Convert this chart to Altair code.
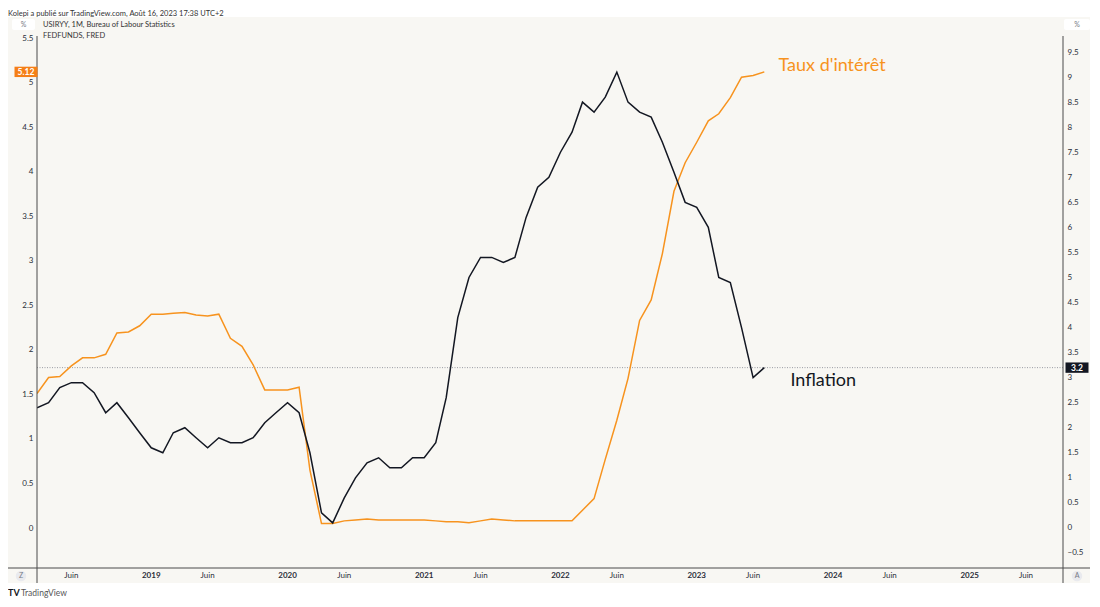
import altair as alt
import pandas as pd

# ---------------- data ----------------
months = pd.date_range("2018-03-01", "2023-07-01", freq="MS").strftime("%Y-%m-%d").tolist()

cpi_yoy = [2.4, 2.5, 2.8, 2.9, 2.9, 2.7, 2.3, 2.5, 2.2, 1.9,
           1.6, 1.5, 1.9, 2.0, 1.8, 1.6, 1.8, 1.7, 1.7, 1.8, 2.1, 2.3,
           2.5, 2.3, 1.5, 0.3, 0.1, 0.6, 1.0, 1.3, 1.4, 1.2, 1.2, 1.4,
           1.4, 1.7, 2.6, 4.2, 5.0, 5.4, 5.4, 5.3, 5.4, 6.2, 6.8, 7.0,
           7.5, 7.9, 8.5, 8.3, 8.6, 9.1, 8.5, 8.3, 8.2, 7.7, 7.1, 6.5,
           6.4, 6.0, 5.0, 4.9, 4.0, 3.0, 3.2]

fed_funds = [1.51, 1.69, 1.70, 1.82, 1.91, 1.91, 1.95, 2.19, 2.20, 2.27,
             2.40, 2.40, 2.41, 2.42, 2.39, 2.38, 2.40, 2.13, 2.04, 1.83, 1.55, 1.55,
             1.55, 1.58, 0.65, 0.05, 0.05, 0.08, 0.09, 0.10, 0.09, 0.09, 0.09, 0.09,
             0.09, 0.08, 0.07, 0.07, 0.06, 0.08, 0.10, 0.09, 0.08, 0.08, 0.08, 0.08,
             0.08, 0.08, 0.20, 0.33, 0.77, 1.21, 1.68, 2.33, 2.56, 3.08, 3.78, 4.10,
             4.33, 4.57, 4.65, 4.83, 5.06, 5.08, 5.12]

left_ticks = [0, 0.5, 1, 1.5, 2, 2.5, 3, 3.5, 4, 4.5, 5, 5.5]
right_ticks = [-0.5, 0, 0.5, 1, 1.5, 2, 2.5, 3, 3.5, 4, 4.5, 5, 5.5, 6, 6.5, 7, 7.5, 8, 8.5, 9, 9.5]

year_tick_dates = ["2019-01-01", "2020-01-01", "2021-01-01", "2022-01-01", "2023-01-01",
                   "2024-01-01", "2025-01-01"]
year_tick_labels = ["2019", "2020", "2021", "2022", "2023", "2024", "2025"]
june_tick_dates = ["2018-06-01", "2019-06-01", "2020-06-01", "2021-06-01", "2022-06-01",
                   "2023-06-01", "2024-06-01", "2025-06-01"]
june_tick_labels = ["Juin"] * 8

annot_text = ["Taux d'intérêt", "Inflation"]
annot_dates = ["2023-08-08", "2023-09-09"]
annot_values = [5.19, 2.93]

last_cpi = [3.2]
last_fed = [5.12]

header_text = "Kolepi a publié sur TradingView.com, Août 16, 2023 17:38 UTC+2"
legend_lines = ["USIRYY, 1M, Bureau of Labour Statistics", "FEDFUNDS, FRED"]

# ---------------- styling ----------------
FONT = "Lato"
ORANGE = "#F7931E"
ORANGE_BOX = "#F57F17"
BLACK = "#131722"
TXT = "#2a2e39"
PANEL = "#f8f7f3"
AXLINE = "#4a4a4a"

W, H = 1026, 551

df = pd.DataFrame({"date": months, "cpi": cpi_yoy, "fed": fed_funds})
one = pd.DataFrame({"k": [0]})

XS = alt.Scale(type="utc", domain=[alt.DateTime(year=2018, month=3, date=1, utc=True),
                                   alt.DateTime(year=2025, month=9, date=8, utc=True)])
Y_FED = alt.Scale(domain=[-0.449, 5.736], nice=False, zero=False)
Y_CPI = alt.Scale(domain=[-0.80, 10.20], nice=False, zero=False)

left_axis = alt.Axis(values=left_ticks, orient="left", title=None, domain=False, ticks=False, grid=False,
                     zindex=2, labelFont=FONT, labelFontSize=8, labelColor=TXT, labelPadding=4, format="~g")
right_axis = alt.Axis(values=right_ticks, orient="right", title=None, domain=False, ticks=False, grid=False,
                      zindex=2, labelFont=FONT, labelFontSize=8, labelColor=TXT, labelPadding=4, format="~g")

# ---------------- decorative frame ----------------
panel = alt.Chart(one).mark_rect(color=PANEL).encode(
    x=alt.value(-32), x2=alt.value(1053), y=alt.value(0), y2=alt.value(566))

vline_l = alt.Chart(one).mark_rule(color=AXLINE, strokeWidth=1).encode(
    x=alt.value(0), y=alt.value(19), y2=alt.value(566))
vline_r = alt.Chart(one).mark_rule(color=AXLINE, strokeWidth=1).encode(
    x=alt.value(W), y=alt.value(19), y2=alt.value(566))
hline_b = alt.Chart(one).mark_rule(color=AXLINE, strokeWidth=1).encode(
    x=alt.value(-32), x2=alt.value(1053), y=alt.value(H))

btn = alt.Chart(pd.DataFrame({"x": [-16, 1040], "t": ["Z", "A"]}))
btn_dots = btn.mark_point(shape="circle", filled=True, color="#e9eaee", opacity=1, size=110).encode(
    x=alt.X("x:Q", scale=None), y=alt.value(559))
btn_text = btn.mark_text(font=FONT, fontSize=7, color="#787b86", baseline="middle").encode(
    x=alt.X("x:Q", scale=None), y=alt.value(559), text="t:N")

# ---------------- time axis labels (on the x scale) ----------------
year_lbl = alt.Chart(pd.DataFrame({"date": year_tick_dates, "t": year_tick_labels})).mark_text(
    font=FONT, fontSize=8, fontWeight="bold", color=TXT, baseline="middle").encode(
    x=alt.X("date:T", scale=XS, axis=None), y=alt.value(559), text="t:N")
june_lbl = alt.Chart(pd.DataFrame({"date": june_tick_dates, "t": june_tick_labels})).mark_text(
    font=FONT, fontSize=8, color=TXT, baseline="middle").encode(
    x=alt.X("date:T", scale=XS, axis=None), y=alt.value(559), text="t:N")

# ---------------- series ----------------
dotted = alt.Chart(pd.DataFrame({"v": last_cpi})).mark_rule(
    color="#9a9ca3", strokeWidth=1, strokeDash=[1, 1.5]).encode(
    y=alt.Y("v:Q", scale=Y_CPI, axis=None), x=alt.value(0), x2=alt.value(W))

fed_line = alt.Chart(df).mark_line(color=ORANGE, strokeWidth=1.5, clip=True).encode(
    x=alt.X("date:T", scale=XS, axis=None),
    y=alt.Y("fed:Q", scale=Y_FED, axis=left_axis))

cpi_line = alt.Chart(df).mark_line(color=BLACK, strokeWidth=1.5, clip=True).encode(
    x=alt.X("date:T", scale=XS, axis=None),
    y=alt.Y("cpi:Q", scale=Y_CPI, axis=right_axis))

ann = pd.DataFrame({"date": annot_dates, "v": annot_values, "t": annot_text})
ann_fed = alt.Chart(ann.iloc[[0]]).mark_text(
    font=FONT, fontSize=18, color=ORANGE, align="left", baseline="middle").encode(
    x=alt.X("date:T", scale=XS, axis=None), y=alt.Y("v:Q", scale=Y_FED, axis=None), text="t:N")
ann_cpi = alt.Chart(ann.iloc[[1]]).mark_text(
    font=FONT, fontSize=18, color=BLACK, align="left", baseline="middle").encode(
    x=alt.X("date:T", scale=XS, axis=None), y=alt.Y("v:Q", scale=Y_CPI, axis=None), text="t:N")

# boxes drawn over axis labels (top "%" boxes and value tags)
pct_boxes = alt.Chart(pd.DataFrame({"x": [-25, 1027], "x2": [-2, 1053]})).mark_rect(
    color="white", cornerRadius=2).encode(
    x=alt.X("x:Q", scale=None), x2="x2:Q", y=alt.value(2), y2=alt.value(13))
pct_text = alt.Chart(pd.DataFrame({"x": [-13.5, 1040], "t": ["%", "%"]})).mark_text(
    font=FONT, fontSize=7, color="#787b86", baseline="middle").encode(
    x=alt.X("x:Q", scale=None), y=alt.value(7.5), text="t:N")

BOX = "M-1,-0.45L1,-0.45L1,0.45L-1,0.45Z"
fed_tag = alt.Chart(pd.DataFrame({"v": last_fed, "t": ["5.12"]}))
fed_tag_box = fed_tag.mark_point(shape=BOX, filled=True, opacity=1, color=ORANGE_BOX, size=23 * 23).encode(
    x=alt.value(-11), y=alt.Y("v:Q", scale=Y_FED, axis=None))
fed_tag_txt = fed_tag.mark_text(font=FONT, fontSize=8.5, fontWeight="bold", color="white", baseline="middle").encode(
    x=alt.value(-11), y=alt.Y("v:Q", scale=Y_FED, axis=None), text="t:N")

cpi_tag = alt.Chart(pd.DataFrame({"v": last_cpi, "t": ["3.2"]}))
cpi_tag_box = cpi_tag.mark_point(shape=BOX, filled=True, opacity=1, color=BLACK, size=23 * 23).encode(
    x=alt.value(1040), y=alt.Y("v:Q", scale=Y_CPI, axis=None))
cpi_tag_txt = cpi_tag.mark_text(font=FONT, fontSize=8.5, fontWeight="bold", color="white", baseline="middle").encode(
    x=alt.value(1040), y=alt.Y("v:Q", scale=Y_CPI, axis=None), text="t:N")

# ---------------- header / legend / footer text ----------------
header = alt.Chart(pd.DataFrame({"t": [header_text]})).mark_text(
    font=FONT, fontSize=7.5, color="#333333", align="left", baseline="middle").encode(
    x=alt.value(-29), y=alt.value(-3.5), text="t:N")
legend = alt.Chart(pd.DataFrame({"t": legend_lines, "y": [8, 19]})).mark_text(
    font=FONT, fontSize=7.5, color="#333333", align="left", baseline="middle").encode(
    x=alt.value(6), y=alt.Y("y:Q", scale=None), text="t:N")
footer_logo = alt.Chart(pd.DataFrame({"t": ["TV"]})).mark_text(
    font=FONT, fontSize=9, fontWeight="bold", color=BLACK, align="left", baseline="middle").encode(
    x=alt.value(-29), y=alt.value(576), text="t:N")
footer = alt.Chart(pd.DataFrame({"t": ["TradingView"]})).mark_text(
    font=FONT, fontSize=8.5, color="#555555", align="left", baseline="middle").encode(
    x=alt.value(-16), y=alt.value(576), text="t:N")

chart = alt.layer(
    panel, dotted, fed_line, cpi_line, vline_l, vline_r, hline_b,
    btn_dots, btn_text, year_lbl, june_lbl, ann_fed, ann_cpi, pct_boxes, pct_text,
    fed_tag_box, fed_tag_txt, cpi_tag_box, cpi_tag_txt,
    header, legend, footer_logo, footer,
).resolve_scale(y="independent").properties(
    width=W, height=H,
    autosize=alt.AutoSizeParams(type="none"),
    padding={"left": 29, "top": 9, "right": 29, "bottom": 31},
    background="white",
).configure_view(stroke=None)

chart.save("out.html", embed_options={"renderer": "svg", "actions": False})
